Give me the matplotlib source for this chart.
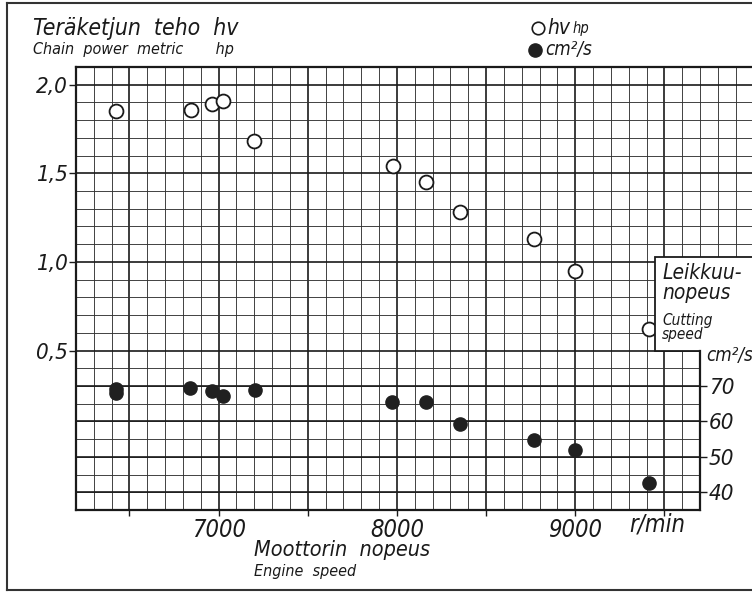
import numpy as np
import matplotlib
matplotlib.use('Agg')
import matplotlib.pyplot as plt
from matplotlib.patches import Polygon
from matplotlib.lines import Line2D

plt.rcParams['font.family'] = ['DejaVu Sans']
plt.rcParams['font.style'] = 'italic'
plt.rcParams['font.stretch'] = 'condensed'

# chain power (open circles), metric hp
rpm_power = [6425, 6845, 6960, 7025, 7200, 7980, 8165, 8355, 8770, 9000, 9415]
power = [1.85, 1.86, 1.89, 1.91, 1.68, 1.54, 1.45, 1.28, 1.13, 0.95, 0.62]

# cutting speed (filled circles), cm2/s
rpm_speed = [6425, 6425, 6840, 6960, 7025, 7205, 7975, 8165, 8355, 8770, 9000, 9415]
speed = [69.2, 67.9, 69.3, 68.6, 67.2, 69.0, 65.4, 65.5, 59.4, 54.7, 51.9, 42.5]

x_ticks = [6500, 7000, 7500, 8000, 8500, 9000, 9500]
x_labels = ['', '7000', '', '8000', '', '9000', '']
y_ticks = [0.5, 1.0, 1.5, 2.0]
y_labels = ['0,5', '1,0', '1,5', '2,0']
speed_ticks = [40, 50, 60, 70]
speed_labels = ['40', '50', '60', '70']

W, H = 752, 593
def fx(x):
    return x / W
def fy(y):
    return 1 - y / H

ink = '#1a1a1a'

fig = plt.figure(figsize=(7.52, 5.93), dpi=100)
ax = fig.add_axes([fx(76), fy(510), (753.5 - 76) / W, (510 - 67) / H])
ax.set_xlim(6200, 10000)
ax.set_ylim(-0.4, 2.1)

ax.set_xticks(x_ticks)
ax.set_xticklabels(x_labels)
ax.set_yticks(y_ticks)
ax.set_yticklabels(y_labels)
ax.set_xticks(np.arange(6200, 10001, 100), minor=True)
ax.set_yticks(np.arange(-0.4, 2.101, 0.1), minor=True)
ax.tick_params(which='minor', length=0)
ax.tick_params(axis='y', which='major', length=5, width=1, pad=1, labelsize=16, colors=ink)
ax.tick_params(axis='x', which='major', length=4, width=1, pad=2, labelsize=17, colors=ink)
ax.grid(which='minor', color='#333333', lw=0.65)
ax.grid(which='major', color=ink, lw=1.2)
ax.set_axisbelow(True)

ax.spines['right'].set_visible(False)
ax.spines['bottom'].set_bounds(6200, 9700)
for s in ['left', 'bottom', 'top']:
    ax.spines[s].set_linewidth(1.6)
    ax.spines[s].set_color(ink)

ax.plot(rpm_power, power, 'o', ms=10, mfc='white', mec=ink, mew=1.3, zorder=2)

# cutting speed scale
ax2 = ax.twinx()
for s in ['left', 'top', 'bottom']:
    ax2.spines[s].set_visible(False)
ax2.spines['right'].set_position(('data', 9700))
ax2.spines['right'].set_bounds(35, 80)
ax2.spines['right'].set_linewidth(1.6)
ax2.spines['right'].set_color(ink)
ax2.set_yticks(speed_ticks)
ax2.set_yticklabels(speed_labels)
ax2.tick_params(axis='y', length=5, width=1, pad=1.5, labelsize=16, colors=ink)
ax2.yaxis.set_zorder(3)

# white cut-out for the right scale and its caption
box = Polygon([(9450, 0.5), (9450, 1.03), (10100, 1.03), (10100, -0.5),
               (9700, -0.5), (9700, 0.5)], closed=True, transform=ax.transData,
              fc='white', ec=ink, lw=1.3, zorder=1)
ax2.add_patch(box)
ax2.set_ylim(35, 160)
ax2.hlines(speed_ticks, 6200, 9700, color=ink, lw=1.2, zorder=1.2)

ax2.plot(rpm_speed, speed, 'o', ms=9.5, color='#202020', zorder=4)

# texts
fig.text(fx(33), fy(35), 'Teräketjun  teho  hv', fontsize=16.5, color=ink)
fig.text(fx(33), fy(54), 'Chain  power  metric       hp', fontsize=11.5, color=ink)
fig.text(fx(254), fy(556), 'Moottorin  nopeus', fontsize=15.5, color=ink)
fig.text(fx(254), fy(576), 'Engine  speed', fontsize=11.5, color=ink)
fig.text(fx(657), fy(531), 'r/min', fontsize=17, color=ink, ha='center')
fig.text(fx(662), fy(279), 'Leikkuu-', fontsize=15, color=ink)
fig.text(fx(662), fy(299), 'nopeus', fontsize=15, color=ink)
fig.text(fx(662), fy(325), 'Cutting', fontsize=11, color=ink)
fig.text(fx(662), fy(339), 'speed', fontsize=11, color=ink)
fig.text(fx(706), fy(361), 'cm²/s', fontsize=13.5, color=ink)

# legend
fig.add_artist(Line2D([fx(538)], [fy(28)], marker='o', ms=9, mfc='white', mec=ink,
                      mew=1.2, ls='none', transform=fig.transFigure))
fig.add_artist(Line2D([fx(535)], [fy(50)], marker='o', ms=9.5, color='#202020',
                      ls='none', transform=fig.transFigure))
fig.text(fx(547), fy(34), 'hv', fontsize=15, color=ink)
fig.text(fx(573), fy(33), 'hp', fontsize=10.5, color=ink)
fig.text(fx(545), fy(55), 'cm²/s', fontsize=13.5, color=ink)

# outer frame
for xs, ys in [([7, 7], [3, 590]), ([7, 760], [3, 3]), ([7, 760], [590, 590])]:
    fig.add_artist(Line2D([fx(v) for v in xs], [fy(v) for v in ys], lw=1.5,
                          color='#333333', transform=fig.transFigure))

fig.savefig('out.png', dpi=100)
